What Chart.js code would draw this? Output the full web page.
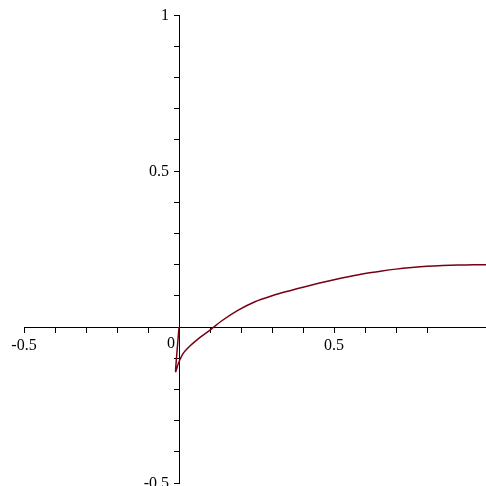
<!DOCTYPE html>
<html>
<head>
<meta charset="utf-8">
<script src="https://cdn.jsdelivr.net/npm/chart.js@4/dist/chart.umd.min.js"></script>
<style>
html,body{margin:0;padding:0;background:#fff;}
#wrap{width:486px;height:486px;}
</style>
</head>
<body>
<div id="wrap"><canvas id="c" width="486" height="486"></canvas></div>
<script>
// Curve samples
const xValues = [0, -0.004, -0.008, -0.011, -0.002, 0.014, 0.035, 0.057, 0.078, 0.105, 0.138, 0.191, 0.245, 0.3, 0.35, 0.4, 0.45, 0.5, 0.55, 0.6, 0.65, 0.7, 0.75, 0.8, 0.85, 0.9, 0.95, 0.99];
const yValues = [0, -0.048, -0.097, -0.143, -0.116, -0.084, -0.061, -0.042, -0.026, -0.006, 0.020, 0.054, 0.081, 0.100, 0.1145, 0.1275, 0.140, 0.1515, 0.162, 0.1715, 0.179, 0.1855, 0.1905, 0.1945, 0.197, 0.1985, 0.1992, 0.1995];
const xLabels = {"-0.5": "-0.5", "0.5": "0.5"};
const yLabels = {"-0.5": "-0.5", "0.5": "0.5", "1": "1"};
const originLabel = "0";

const points = xValues.map((x, i) => ({x: x, y: yValues[i]}));
const FONT = {family: "'Liberation Serif', 'DejaVu Serif', serif", size: 16};

function keepTenths(scale) {
  scale.ticks = scale.ticks.filter(t => Math.abs(t.value * 10 - Math.round(t.value * 10)) < 1e-6);
}
function keyOf(v) { return String(Math.round(v * 10) / 10); }

// Draws the y tick labels (left of the crossing axis) and the origin "0"
const labelPlugin = {
  id: 'axisLabels',
  afterDraw(chart) {
    const ctx = chart.ctx;
    const xs = chart.scales.x, ys = chart.scales.y;
    const axisX = xs.getPixelForValue(0);
    ctx.save();
    ctx.font = FONT.size + "px " + FONT.family;
    ctx.fillStyle = '#000';
    ctx.textAlign = 'right';
    ctx.textBaseline = 'middle';
    ys.ticks.forEach(t => {
      const lab = yLabels[keyOf(t.value)];
      if (lab) ctx.fillText(lab, axisX - 10, ys.getPixelForValue(t.value) + 1);
    });
    ctx.textAlign = 'center';
    ctx.fillText(originLabel, axisX - 8, ys.getPixelForValue(0) + 17);
    ctx.restore();
  }
};

new Chart(document.getElementById('c'), {
  type: 'scatter',
  data: {
    datasets: [{
      data: points,
      showLine: true,
      borderColor: 'rgb(120,0,20)',
      borderWidth: 1.5,
      pointRadius: 0,
      tension: 0.25,
      fill: false
    }]
  },
  options: {
    responsive: false,
    animation: false,
    events: [],
    layout: {padding: {left: 24, right: 0, top: 15, bottom: 3}},
    plugins: {legend: {display: false}, tooltip: {enabled: false}},
    scales: {
      x: {
        type: 'linear',
        position: {y: 0},
        min: -0.5,
        max: 0.99,
        afterBuildTicks: keepTenths,
        afterFit: s => { s.height = 0; s.paddingLeft = 0; s.paddingRight = 0; },
        ticks: {
          stepSize: 0.1,
          autoSkip: false,
          maxRotation: 0,
          color: '#000',
          font: FONT,
          padding: 4,
          callback: v => xLabels[keyOf(v)] || ''
        },
        grid: {drawOnChartArea: false, drawTicks: true, tickLength: 5, color: '#000'},
        border: {display: true, color: '#000', width: 1}
      },
      y: {
        type: 'linear',
        position: {x: 0},
        min: -0.5,
        max: 1,
        afterBuildTicks: keepTenths,
        afterFit: s => { s.width = 0; s.paddingTop = 0; s.paddingBottom = 0; },
        ticks: {
          stepSize: 0.1,
          autoSkip: false,
          color: '#000',
          font: FONT,
          callback: v => ''
        },
        grid: {drawOnChartArea: false, drawTicks: true, tickLength: 5, color: '#000'},
        border: {display: true, color: '#000', width: 1}
      }
    }
  },
  plugins: [labelPlugin]
});
</script>
</body>
</html>
